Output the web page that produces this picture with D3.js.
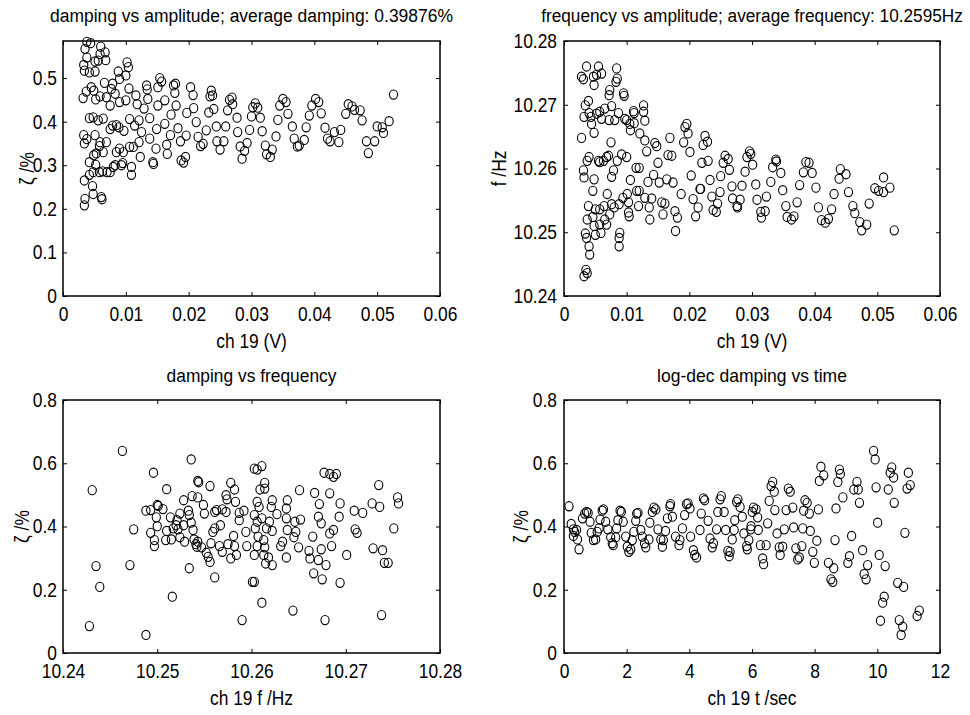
<!DOCTYPE html>
<html>
<head>
<meta charset="utf-8">
<script src="https://cdn.jsdelivr.net/npm/d3@7"></script>
<style>
  body { margin: 0; background: #fff; }
  svg text { font-family: "Liberation Sans", Arial, sans-serif; fill: #000; }
</style>
</head>
<body>
<div id="chart"></div>
<script>
// damping (%) vs amplitude (V)
const dampAmp = [
  [0.0038,0.583],[0.0044,0.58],[0.0035,0.567],[0.0038,0.547],[0.0033,0.53],[0.0034,0.517],[0.0042,0.513],[0.0051,0.515],
  [0.0051,0.538],[0.0059,0.555],[0.006,0.572],[0.0067,0.559],[0.0068,0.541],[0.0056,0.54],
  [0.0032,0.454],[0.0037,0.469],[0.0045,0.479],[0.0049,0.471],[0.0052,0.451],[0.0059,0.458],[0.0066,0.489],[0.0069,0.456],
  [0.0075,0.437],[0.0077,0.475],[0.0079,0.487],[0.0088,0.515],[0.009,0.498],[0.009,0.445],[0.01,0.506],[0.0102,0.536],
  [0.0104,0.525],[0.0105,0.476],[0.0083,0.464],[0.01,0.449],
  [0.0042,0.408],[0.0048,0.41],[0.0056,0.403],[0.0064,0.407],[0.0033,0.369],[0.0034,0.35],[0.0038,0.36],[0.0051,0.369],
  [0.0059,0.353],[0.0069,0.353],[0.0075,0.383],[0.0079,0.391],[0.0085,0.392],[0.0089,0.387],[0.0097,0.379],[0.0106,0.406],
  [0.0114,0.391],[0.0121,0.403],[0.0118,0.44],[0.0116,0.46],
  [0.0133,0.483],[0.0134,0.474],[0.0135,0.452],[0.0138,0.408],[0.0129,0.43],[0.0125,0.376],[0.0121,0.353],[0.0123,0.319],
  [0.0112,0.342],[0.0106,0.342],[0.0109,0.296],[0.0109,0.278],[0.0138,0.361],[0.0143,0.307],[0.0144,0.303],[0.0148,0.338],
  [0.0154,0.5],[0.0157,0.492],[0.0151,0.479],[0.0151,0.437],[0.0162,0.449],[0.0149,0.383],[0.0162,0.395],[0.0165,0.347],
  [0.0166,0.326],[0.0171,0.369],[0.0172,0.416],[0.0176,0.483],[0.0179,0.487],[0.0178,0.466],[0.018,0.437],[0.0183,0.385],
  [0.0187,0.355],[0.0188,0.311],[0.0192,0.306],[0.0195,0.319],[0.0196,0.368],[0.0197,0.42],[0.0203,0.479],[0.0207,0.461],
  [0.0208,0.431],[0.0212,0.399],[0.0215,0.365],[0.0219,0.344],[0.0223,0.349],[0.0228,0.38],[0.0232,0.421],[0.0234,0.458],
  [0.0034,0.265],[0.0035,0.223],[0.0034,0.208],[0.0042,0.278],[0.0048,0.284],[0.0047,0.252],[0.0048,0.234],[0.0042,0.307],
  [0.0052,0.301],[0.0058,0.284],[0.0061,0.227],[0.0062,0.222],[0.0063,0.286],[0.0064,0.33],[0.0053,0.327],[0.0049,0.323],
  [0.007,0.284],[0.0075,0.284],[0.008,0.296],[0.0083,0.3],[0.0085,0.33],[0.009,0.338],[0.0096,0.33],[0.0095,0.305],
  [0.0093,0.3],[0.0058,0.344],
  [0.0236,0.471],[0.0238,0.46],[0.024,0.429],[0.0244,0.389],[0.0245,0.355],[0.025,0.336],[0.0256,0.355],[0.0259,0.389],
  [0.0262,0.426],[0.0265,0.45],[0.0269,0.455],[0.027,0.44],[0.0277,0.409],[0.0278,0.376],[0.0282,0.343],[0.0285,0.315],
  [0.0289,0.333],[0.0293,0.351],[0.0297,0.381],[0.03,0.412],[0.0302,0.433],[0.0306,0.442],[0.031,0.432],[0.0314,0.409],
  [0.0317,0.378],[0.0322,0.345],[0.0324,0.325],[0.033,0.319],[0.0333,0.336],[0.0339,0.366],[0.0342,0.404],[0.0345,0.437],
  [0.035,0.452],[0.0355,0.445],[0.0358,0.418],[0.0365,0.389],[0.0368,0.361],[0.0373,0.343],[0.0376,0.345],[0.0384,0.358],
  [0.0387,0.387],[0.0392,0.414],[0.0396,0.437],[0.0402,0.452],[0.0407,0.445],[0.0411,0.419],[0.0417,0.386],[0.0421,0.361],
  [0.0425,0.355],[0.0432,0.376],[0.0439,0.353],[0.0442,0.381],[0.045,0.418],[0.0454,0.44],[0.046,0.435],[0.0464,0.427],
  [0.0473,0.426],[0.0476,0.403],[0.0483,0.355],[0.0486,0.328],[0.0496,0.355],[0.05,0.389],[0.0508,0.387],[0.051,0.374],
  [0.0519,0.401],[0.0526,0.462]
];

// frequency (Hz) vs amplitude (V)
const freqAmp = [
  [0.0028,10.2744],[0.0031,10.274],[0.0028,10.2648],[0.0032,10.2681],[0.0034,10.2699],[0.0036,10.276],[0.0039,10.2706],
  [0.004,10.2687],[0.0043,10.2681],[0.0047,10.2744],[0.0048,10.2731],[0.0052,10.2747],[0.0055,10.276],[0.006,10.2749],
  [0.0044,10.267],[0.0048,10.2656],[0.0052,10.2686],[0.0057,10.2689],[0.006,10.2678],[0.0065,10.2694],[0.0072,10.2715],
  [0.0073,10.2723],[0.0076,10.2698],[0.0072,10.2676],[0.0081,10.2676],[0.0083,10.2736],[0.0085,10.2741],[0.0084,10.2757],
  [0.0087,10.2687],[0.0075,10.2641],[0.0095,10.2718],[0.0096,10.2714],[0.0097,10.2678],[0.01,10.2676],[0.0111,10.269],
  [0.0112,10.2687],[0.0112,10.2671],[0.0105,10.267],[0.0106,10.266],[0.0121,10.2655],[0.0127,10.2699],[0.0127,10.2689],
  [0.0129,10.2675],[0.0129,10.2644],
  [0.0031,10.2597],[0.0032,10.2586],[0.0037,10.2612],[0.004,10.2618],[0.0048,10.2583],[0.0046,10.2565],[0.0055,10.2612],
  [0.0057,10.261],[0.0063,10.2612],[0.0068,10.2618],[0.0071,10.262],[0.0076,10.2587],[0.0079,10.2597],[0.0085,10.2612],
  [0.0092,10.2622],[0.01,10.2618],[0.0106,10.2582],[0.0115,10.2601],[0.012,10.2601],[0.0116,10.2565],[0.012,10.2565],
  [0.0129,10.2554],
  [0.0039,10.2541],[0.0037,10.252],[0.0034,10.2498],[0.0036,10.2491],[0.004,10.2478],[0.0041,10.2465],[0.0035,10.2441],
  [0.0032,10.2431],[0.0037,10.2436],[0.0046,10.2524],[0.005,10.2536],[0.0048,10.251],[0.005,10.2496],[0.0057,10.2536],
  [0.0057,10.2512],[0.0059,10.2499],[0.0064,10.2541],[0.0065,10.252],[0.0068,10.2512],[0.0069,10.256],[0.0073,10.2528],
  [0.0076,10.2544],[0.008,10.2539],[0.0088,10.2544],[0.0089,10.2499],[0.0088,10.2491],[0.0088,10.2478],[0.0094,10.2554],
  [0.0101,10.256],[0.0103,10.2547],[0.0103,10.2531],[0.0104,10.2525],[0.0119,10.2541],
  [0.0132,10.2627],[0.0134,10.2579],[0.0136,10.2539],[0.0137,10.252],[0.014,10.2553],[0.0143,10.259],[0.0145,10.264],
  [0.0148,10.2635],[0.015,10.2609],[0.0152,10.2578],[0.0156,10.2547],[0.0158,10.2528],[0.0161,10.2545],[0.0164,10.2583],
  [0.0166,10.2621],[0.0169,10.2648],[0.0172,10.262],[0.0174,10.2578],[0.0177,10.2533],[0.0178,10.2502],[0.0181,10.2523],
  [0.0187,10.256],[0.0191,10.2641],[0.0193,10.2665],[0.0196,10.267],[0.0198,10.2655],[0.0201,10.2626],[0.0203,10.2589],
  [0.0206,10.2552],[0.021,10.2525],[0.0214,10.2539],[0.0217,10.2568],
  [0.0225,10.2651],[0.0222,10.2637],[0.0229,10.2642],[0.022,10.2609],[0.023,10.2612],[0.0218,10.2568],[0.0233,10.2582],
  [0.0236,10.2556],[0.0238,10.2535],[0.0243,10.2532],[0.0245,10.2545],[0.0249,10.2563],[0.025,10.2588],[0.0254,10.2609],
  [0.0257,10.262],[0.0262,10.2615],[0.0264,10.2598],[0.0268,10.2572],[0.0269,10.2553],[0.0276,10.2541],[0.0277,10.2539],
  [0.0281,10.2551],[0.0284,10.2573],[0.0289,10.2595],[0.0292,10.2618],[0.0296,10.2627],[0.0298,10.2623],[0.0301,10.2606],
  [0.0306,10.2575],[0.0308,10.2551],[0.0314,10.2532],[0.0315,10.2523],[0.0321,10.2533],[0.0323,10.2556],[0.033,10.2579],
  [0.0333,10.2602],[0.0338,10.2614],[0.0339,10.2611],[0.0346,10.2593],[0.0349,10.2566],[0.0354,10.2541],[0.0356,10.2524],
  [0.0363,10.252],[0.0367,10.2525],[0.0372,10.2547],[0.0376,10.2574],[0.0382,10.2594],[0.0386,10.261],[0.0391,10.2609],
  [0.0396,10.2593],[0.0402,10.257],[0.0406,10.2539],[0.0411,10.2519],[0.0417,10.2515],[0.0422,10.2521],[0.0427,10.2536],
  [0.0431,10.256],[0.0439,10.2584],[0.0441,10.2599],[0.045,10.2591],[0.0454,10.2563],[0.0461,10.2541],[0.0464,10.253],
  [0.0472,10.2516],[0.0475,10.2503],[0.0483,10.2512],[0.0487,10.2545],[0.0496,10.2569],[0.0502,10.2565],[0.051,10.2563],
  [0.051,10.2586],[0.052,10.257],[0.0527,10.2503]
];

// damping (%) vs frequency (Hz)
const dampFreq = [
  [10.2463,0.639],[10.2431,0.515],[10.2496,0.57],[10.251,0.518],[10.2536,0.612],[10.2543,0.544],[10.2544,0.54],
  [10.2556,0.528],[10.2578,0.538],[10.2582,0.517],[10.2573,0.499],[10.2574,0.486],[10.2583,0.478],[10.2537,0.496],
  [10.2543,0.492],[10.2528,0.483],[10.2488,0.45],[10.2493,0.452],[10.25,0.468],[10.2501,0.465],[10.2506,0.455],
  [10.2514,0.429],[10.2499,0.429],[10.2475,0.391],[10.2493,0.38],[10.2497,0.357],[10.2497,0.338],[10.25,0.401],
  [10.2509,0.357],[10.251,0.386],[10.2515,0.359],[10.2517,0.394],[10.252,0.404],[10.2521,0.42],[10.2522,0.391],
  [10.2524,0.366],[10.2524,0.441],[10.2528,0.404],[10.2529,0.352],[10.2533,0.45],[10.2534,0.436],[10.2536,0.412],
  [10.2538,0.389],[10.2539,0.359],[10.2541,0.344],[10.2542,0.336],[10.2543,0.352],[10.2547,0.334],[10.2549,0.468],
  [10.255,0.441],[10.2552,0.317],[10.2554,0.304],[10.2556,0.288],[10.2557,0.347],[10.2559,0.383],[10.2561,0.394],
  [10.2561,0.446],[10.2563,0.452],[10.2566,0.338],[10.2567,0.404],[10.2569,0.454],[10.2573,0.446],[10.2569,0.32],
  [10.2575,0.344],[10.2578,0.299],[10.2581,0.37],[10.2582,0.338],[10.2584,0.31],[10.2587,0.42],[10.2587,0.443],
  [10.2592,0.45],[10.2594,0.383],[10.2595,0.338],[10.2534,0.268],[10.2561,0.239],[10.2516,0.178],[10.2435,0.275],
  [10.2471,0.278],[10.2439,0.209],[10.2428,0.085],[10.2488,0.057],[10.259,0.104],[10.2601,0.225],
  [10.2603,0.583],[10.2606,0.58],[10.2611,0.591],[10.2614,0.538],[10.2614,0.52],[10.2609,0.517],[10.2606,0.478],
  [10.2608,0.462],[10.2622,0.483],[10.2621,0.462],[10.2627,0.439],[10.2603,0.436],[10.2606,0.415],[10.2611,0.426],
  [10.2619,0.415],[10.2616,0.394],[10.2622,0.386],[10.2604,0.394],[10.2607,0.368],[10.2613,0.357],[10.2606,0.338],
  [10.2614,0.334],[10.2603,0.31],[10.2613,0.31],[10.2618,0.302],[10.2615,0.283],[10.2622,0.278],[10.2638,0.483],
  [10.2637,0.457],[10.2637,0.426],[10.2651,0.515],[10.2652,0.422],[10.2646,0.415],[10.2638,0.389],[10.2647,0.383],
  [10.2645,0.366],[10.2633,0.352],[10.2631,0.338],[10.265,0.334],[10.2637,0.302],[10.2661,0.323],[10.2662,0.299],
  [10.2665,0.368],[10.2666,0.252],[10.2667,0.506],[10.2672,0.471],[10.2671,0.431],[10.2674,0.41],[10.2671,0.294],
  [10.2674,0.328],[10.2675,0.233],[10.2679,0.278],[10.2677,0.57],[10.2683,0.566],[10.2687,0.557],[10.269,0.566],
  [10.2683,0.505],[10.2694,0.473],[10.2693,0.431],[10.2687,0.389],[10.2683,0.378],[10.2685,0.338],[10.2694,0.222],
  [10.2678,0.104],[10.2701,0.31],[10.2709,0.45],[10.271,0.391],[10.2712,0.38],[10.2718,0.443],[10.2728,0.473],
  [10.2735,0.531],[10.2736,0.462],[10.2729,0.331],[10.2739,0.325],[10.2741,0.285],[10.2745,0.285],[10.2738,0.12],
  [10.2751,0.394],[10.2755,0.492],[10.2756,0.473],[10.2644,0.134],[10.2611,0.159],[10.2603,0.225]
];

// log-dec damping (%) vs time (s)
const dampTime = [
  [0.16,0.464],[0.23,0.408],[0.3,0.391],[0.34,0.383],[0.4,0.389],[0.3,0.37],[0.43,0.359],[0.48,0.328],[0.59,0.426],
  [0.66,0.441],[0.72,0.446],[0.77,0.443],[0.83,0.415],[0.87,0.38],[0.94,0.357],[1.01,0.359],[1.06,0.383],[1.12,0.394],
  [1.15,0.422],[1.22,0.45],[1.26,0.454],[1.33,0.415],[1.4,0.391],[1.49,0.366],[1.54,0.347],[1.57,0.341],[1.65,0.366],
  [1.68,0.394],[1.72,0.42],[1.79,0.45],[1.83,0.446],[1.89,0.415],[1.97,0.368],[2.02,0.336],[2.07,0.32],[2.13,0.328],
  [2.18,0.357],[2.23,0.383],[2.29,0.418],[2.32,0.441],[2.36,0.443],[2.45,0.389],[2.5,0.368],[2.57,0.347],[2.61,0.334],
  [2.71,0.359],[2.74,0.412],[2.82,0.446],[2.87,0.46],[2.93,0.454],[3.0,0.391],[3.09,0.359],[3.14,0.336],[3.17,0.357],
  [3.24,0.386],[3.3,0.426],[3.38,0.464],[3.4,0.471],[3.46,0.431],[3.56,0.368],[3.67,0.341],[3.7,0.357],[3.78,0.394],
  [3.85,0.436],[3.91,0.471],[3.96,0.473],[4.02,0.457],[4.04,0.368],[4.13,0.325],[4.17,0.31],[4.23,0.302],[4.34,0.389],
  [4.38,0.441],[4.45,0.489],[4.49,0.483],[4.6,0.418],[4.66,0.362],[4.73,0.334],[4.77,0.347],[4.87,0.391],[4.91,0.446],
  [4.98,0.486],[5.02,0.496],[5.11,0.446],[5.16,0.389],[5.23,0.323],[5.27,0.306],[5.3,0.32],[5.37,0.359],[5.43,0.389],
  [5.45,0.42],[5.51,0.478],[5.55,0.486],[5.62,0.462],[5.69,0.431],[5.74,0.378],[5.83,0.338],[5.85,0.328],[5.9,0.357],
  [5.96,0.391],[6.01,0.446],
  [5.97,0.401],[6.05,0.46],[6.13,0.454],[6.18,0.429],[6.2,0.389],[6.27,0.341],[6.34,0.299],[6.37,0.281],[6.45,0.341],
  [6.5,0.41],[6.55,0.481],[6.61,0.528],[6.66,0.541],[6.71,0.51],[6.73,0.452],[6.8,0.378],[6.87,0.334],[6.9,0.31],
  [6.98,0.336],[7.03,0.391],[7.09,0.452],[7.16,0.52],[7.22,0.51],[7.3,0.46],[7.33,0.397],[7.4,0.331],[7.46,0.296],
  [7.51,0.302],[7.59,0.338],[7.62,0.394],[7.65,0.45],[7.69,0.483],[7.76,0.475],[7.83,0.441],[7.86,0.386],[7.94,0.32],
  [7.99,0.285],[8.07,0.355],[8.12,0.454],[8.15,0.544],[8.2,0.589],[8.29,0.562],[8.44,0.285],[8.52,0.233],[8.58,0.225],
  [8.61,0.268],[8.65,0.357],[8.68,0.457],[8.74,0.541],[8.79,0.58],[8.82,0.566],[8.9,0.492],[9.06,0.285],[9.11,0.306],
  [9.18,0.37],[9.25,0.517],[9.35,0.541],[9.39,0.517],[9.43,0.475],[9.53,0.325],[9.58,0.25],[9.64,0.233],[9.69,0.278],
  [9.88,0.639],[9.93,0.612],[9.96,0.524],[10.01,0.412],[10.06,0.31],[10.1,0.102],[10.17,0.159],[10.22,0.178],
  [10.25,0.275],[10.35,0.517],[10.41,0.57],[10.46,0.587],[10.52,0.555],[10.54,0.475],[10.65,0.222],[10.7,0.104],
  [10.81,0.083],[10.76,0.057],[10.84,0.209],[10.88,0.38],[10.95,0.52],[10.99,0.57],[11.05,0.531],[11.27,0.117],
  [11.34,0.134]
];

// axis ticks
const ampTicks = [0, 0.01, 0.02, 0.03, 0.04, 0.05, 0.06];
const dampTicksTop = [0, 0.1, 0.2, 0.3, 0.4, 0.5];
const freqTicks = [10.24, 10.25, 10.26, 10.27, 10.28];
const dampTicks = [0, 0.2, 0.4, 0.6, 0.8];
const timeTicks = [0, 2, 4, 6, 8, 10, 12];

const width = 970, height = 715;
const squeeze = 0.87; // the source figure's lettering is horizontally condensed
const svg = d3.select('#chart').append('svg').attr('width', width).attr('height', height);

const panels = [
  { data: dampAmp, box: [63, 41, 440, 296], xd: [0, 0.06], yd: [0, 0.585], xt: ampTicks, yt: dampTicksTop,
    title: 'damping vs amplitude; average damping: 0.39876%', titleY: 22, titleW: 403, xlabel: 'ch 19 (V)', xlabelY: 348,
    ylabel: 'ζ /%', ylabelX: 27, ylabPad: 6 },
  { data: freqAmp, box: [564, 41, 940, 296], xd: [0, 0.06], yd: [10.24, 10.28], xt: ampTicks, yt: freqTicks,
    title: 'frequency vs amplitude; average frequency: 10.2595Hz', titleY: 22, titleW: 422, xlabel: 'ch 19 (V)', xlabelY: 348,
    ylabel: 'f /Hz', ylabelX: 499, ylabPad: 7 },
  { data: dampFreq, box: [63, 400, 440, 653], xd: [10.24, 10.28], yd: [0, 0.8], xt: freqTicks, yt: dampTicks,
    title: 'damping vs frequency', titleY: 382, titleW: 170, xlabel: 'ch 19 f /Hz', xlabelY: 705,
    ylabel: 'ζ /%', ylabelX: 22, ylabPad: 6 },
  { data: dampTime, box: [564, 400, 940, 653], xd: [0, 12], yd: [0, 0.8], xt: timeTicks, yt: dampTicks,
    title: 'log-dec damping vs time', titleY: 382, titleW: 190, xlabel: 'ch 19 t /sec', xlabelY: 705,
    ylabel: 'ζ /%', ylabelX: 521, ylabPad: 7 }
];

panels.forEach(p => {
  const [x0, y0, x1, y1] = p.box;
  const x = d3.scaleLinear().domain(p.xd).range([x0, x1]);
  const y = d3.scaleLinear().domain(p.yd).range([y1, y0]);
  const g = svg.append('g');

  // tick marks inside on all four sides, labels only bottom / left
  const fmt = d => String(d);
  g.append('g').attr('transform', `translate(0,${y1})`)
    .call(d3.axisBottom(x).tickValues(p.xt).tickFormat(fmt).tickSizeInner(-4).tickSizeOuter(0).tickPadding(11));
  g.append('g').attr('transform', `translate(0,${y0})`)
    .call(d3.axisTop(x).tickValues(p.xt).tickFormat('').tickSizeInner(-4).tickSizeOuter(0));
  g.append('g').attr('transform', `translate(${x0},0)`)
    .call(d3.axisLeft(y).tickValues(p.yt).tickFormat(fmt).tickSizeInner(-4).tickSizeOuter(0)
      .tickPadding(p.ylabPad / squeeze));
  g.append('g').attr('transform', `translate(${x1},0)`)
    .call(d3.axisRight(y).tickValues(p.yt).tickFormat('').tickSizeInner(-4).tickSizeOuter(0));
  g.selectAll('.domain').remove();
  g.selectAll('.tick line').attr('stroke', '#000').attr('stroke-width', 1);
  g.selectAll('.tick text').attr('font-size', 20).attr('fill', '#000')
    .attr('transform', `scale(${squeeze},1)`);

  // markers (slightly tall, as in the source)
  g.append('g').selectAll('ellipse')
    .data(p.data)
    .enter()
    .append('ellipse')
    .attr('cx', d => x(d[0]))
    .attr('cy', d => y(d[1]))
    .attr('rx', 4.1)
    .attr('ry', 4.6)
    .attr('fill', 'none')
    .attr('stroke', '#000')
    .attr('stroke-width', 1.1);

  // box
  g.append('rect')
    .attr('x', x0).attr('y', y0)
    .attr('width', x1 - x0).attr('height', y1 - y0)
    .attr('fill', 'none').attr('stroke', '#000').attr('stroke-width', 1.5);

  // title: measure, then condense to the width seen in the source
  const title = g.append('text')
    .attr('text-anchor', 'middle').attr('font-size', 19)
    .text(p.title);
  const natural = title.node().getComputedTextLength() || p.titleW;
  title.attr('transform', `translate(${(x0 + x1) / 2},${p.titleY}) scale(${p.titleW / natural},1)`);

  g.append('text')
    .attr('transform', `translate(${(x0 + x1) / 2},${p.xlabelY}) scale(${squeeze},1)`)
    .attr('text-anchor', 'middle').attr('font-size', 20)
    .text(p.xlabel);
  g.append('text')
    .attr('transform', `translate(${p.ylabelX},${(y0 + y1) / 2}) rotate(-90) scale(${squeeze},1)`)
    .attr('text-anchor', 'middle').attr('dominant-baseline', 'central').attr('font-size', 20)
    .text(p.ylabel);
});
</script>
</body>
</html>
